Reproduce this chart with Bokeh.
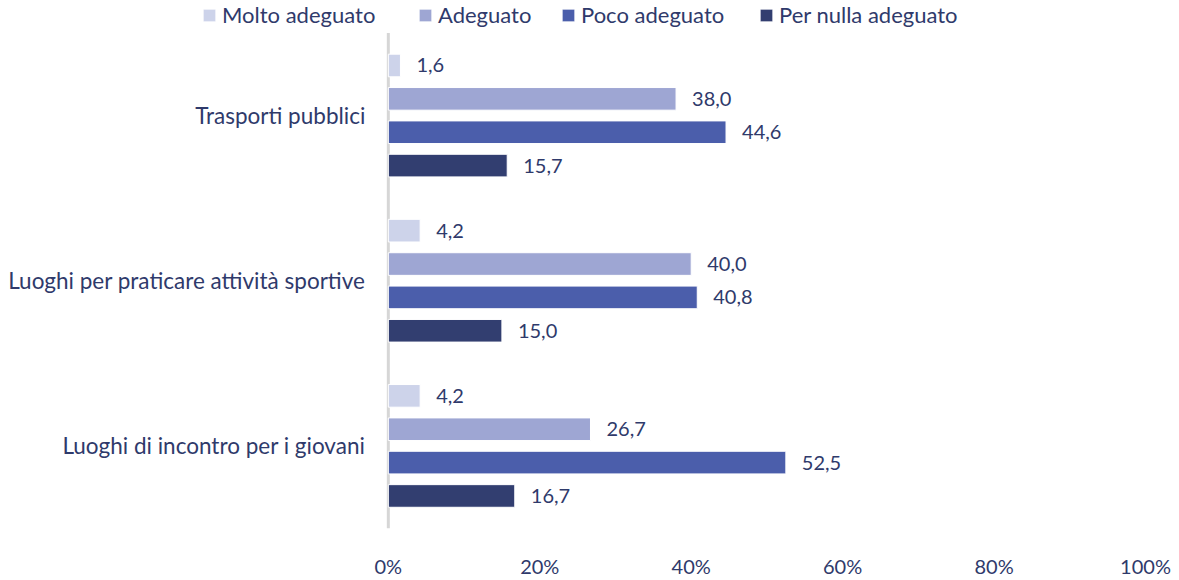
from bokeh.plotting import figure
from bokeh.models import ColumnDataSource, Legend, LegendItem, FixedTicker, CustomJSTickFormatter, Range1d
from bokeh.core.properties import value
from bokeh.embed import file_html
from bokeh.resources import INLINE

categories = ["Trasporti pubblici", "Luoghi per praticare attività sportive", "Luoghi di incontro per i giovani"]
series_names = ["Molto adeguato", "Adeguato", "Poco adeguato", "Per nulla adeguato"]
molto = [1.6, 4.2, 4.2]
adeguato = [38.0, 40.0, 26.7]
poco = [44.6, 40.8, 52.5]
nulla = [15.7, 15.0, 16.7]
x_ticks = [0, 20, 40, 60, 80, 100]

colors = ["#cdd3ea", "#9ea6d3", "#4b5eab", "#323e70"]
text_color = "#2f3a6b"
font = "Lato"

n = len(categories)
cat_y = [n - i - 0.5 for i in range(n)]  # top category first

data = dict(cat=categories, cy=cat_y, molto=molto, adeguato=adeguato, poco=poco, nulla=nulla)
keys = ["molto", "adeguato", "poco", "nulla"]
offsets = [0.303, 0.101, -0.101, -0.303]
for k, off in zip(keys, offsets):
    data[k + "_lbl"] = [f"{v:.1f}".replace(".", ",") for v in data[k]]
    data[k + "_y"] = [c + off for c in cat_y]
src = ColumnDataSource(data)

FRAME_H = 537.0
CAT_PX = 168.0
p = figure(width=1179, height=580,
           x_range=Range1d(-388 / 7.575, 100), y_range=Range1d(0, FRAME_H / CAT_PX),
           output_backend="svg", toolbar_location=None,
           min_border_left=0, min_border_right=34, min_border_top=0, min_border_bottom=43)
p.outline_line_color = None
p.grid.grid_line_color = None
p.yaxis.visible = False

# vertical axis line at 0
p.segment(x0=[0], x1=[0], y0=[0], y1=[n], line_color="#d6d6d6", line_width=3)

# category labels
p.text(x=0, y="cy", text="cat", source=src, x_offset=-23, text_align="right",
       text_baseline="middle", text_font=value(font), text_font_size="22.5px",
       text_color=text_color)

legend_x = [201, 417, 560, 758]
for k, c, name, lx in zip(keys, colors, series_names, legend_x):
    r = p.hbar(y=k + "_y", right=k, left=0, height=0.137,
               source=src, fill_color=c, line_color="white", line_width=1)
    p.text(x=k, y=k + "_y", text=k + "_lbl", source=src,
           x_offset=16, text_baseline="middle", text_align="left",
           text_font=value(font), text_font_size="20px", text_color=text_color)
    lg = Legend(items=[LegendItem(label=name, renderers=[r])], orientation="horizontal",
                location=(lx, 500), glyph_width=16, glyph_height=16, label_text_font=font,
                label_text_font_size="22px", label_text_color=text_color,
                label_standoff=5, padding=0, margin=0,
                border_line_color=None, background_fill_alpha=0)
    p.add_layout(lg, "center")

p.xaxis.ticker = FixedTicker(ticks=x_ticks)
p.xaxis.formatter = CustomJSTickFormatter(code="return tick + '%';")
p.xaxis.axis_line_color = None
p.xaxis.major_tick_line_color = None
p.xaxis.minor_tick_line_color = None
p.xaxis.major_label_standoff = 19
p.xaxis.major_label_text_font = font
p.xaxis.major_label_text_font_size = "20px"
p.xaxis.major_label_text_color = text_color

open("out.html", "w").write(file_html(p, INLINE))
